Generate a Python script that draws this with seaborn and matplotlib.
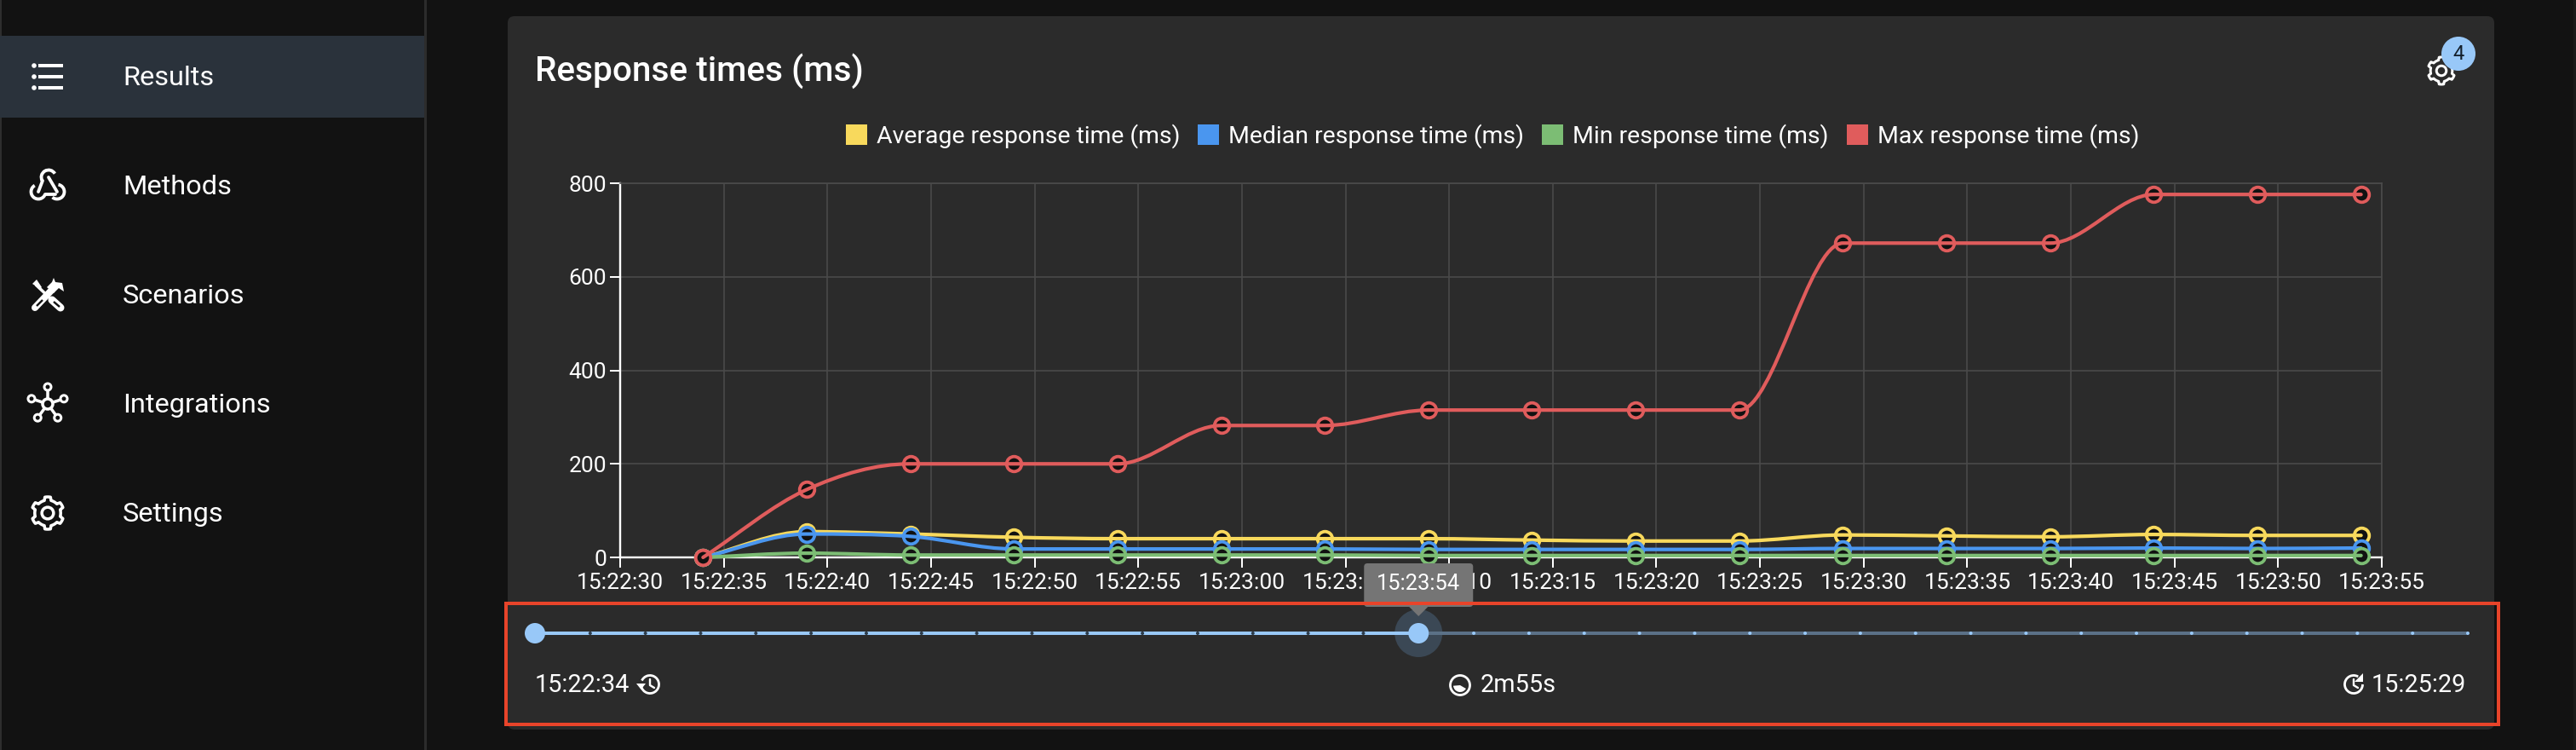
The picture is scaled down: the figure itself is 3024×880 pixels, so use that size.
"""
plot.py
-------
Dark dashboard panel with a response times chart, a time slider and a sidebar.
"""

import matplotlib.dates as mdates
import matplotlib.pyplot as plt
import numpy as np
import pandas as pd
import seaborn as sns
from matplotlib.patches import Arc, Circle, FancyBboxPatch, PathPatch, Patch, Polygon, Rectangle, Wedge
from matplotlib.path import Path

# Chart data
times = [
    "15:22:34", "15:22:39", "15:22:44", "15:22:49", "15:22:54", "15:22:59",
    "15:23:04", "15:23:09", "15:23:14", "15:23:19", "15:23:24", "15:23:29",
    "15:23:34", "15:23:39", "15:23:44", "15:23:49", "15:23:54",
]
average_ms = [0, 55, 50, 43, 40, 40, 40, 40, 37, 35, 35, 48, 46, 44, 49, 47, 47]
median_ms = [0, 50, 45, 18, 18, 18, 18, 17, 17, 17, 17, 19, 19, 19, 20, 19, 20]
min_ms = [0, 9, 5, 5, 5, 5, 5, 4, 4, 4, 4, 4, 4, 4, 4, 4, 4]
max_ms = [0, 145, 200, 200, 200, 282, 282, 315, 315, 315, 315, 672, 672, 672, 776, 776, 776]
series_names = [
    "Average response time (ms)",
    "Median response time (ms)",
    "Min response time (ms)",
    "Max response time (ms)",
]
series_colors = ["#f8d95c", "#4a96ef", "#7cbd74", "#e05c5c"]
y_ticks = [0, 200, 400, 600, 800]
x_start = "15:22:30"
x_end = "15:23:55"

# Page text
menu_items = ["Results", "Methods", "Scenarios", "Integrations", "Settings"]
chart_title = "Response times (ms)"
slider_start = "15:22:34"
slider_current = "15:23:54"
slider_end = "15:25:29"
slider_span = "2m55s"
badge_count = "4"
slider_steps = 35
slider_active_steps = 16

# Colours
PAGE = "#121212"
PANEL = "#2b2b2b"
BAND = "#2a323b"
GRID = "#4b4b4b"
ACCENT = "#98c8f8"
TRACK = "#5b7187"
WHITE = "#ffffff"
RED_BOX = "#e8442a"

W, H = 3024, 880


def px(n):
    # Pixels to points at dpi 100.
    return n * 0.72


def monotone_path(x, y):
    # Monotone cubic curve through the points, as bezier segments.
    x = np.asarray(x, dtype=float)
    y = np.asarray(y, dtype=float)
    h = np.diff(x)
    delta = np.diff(y) / h
    m = np.zeros_like(y)
    m[0], m[-1] = delta[0], delta[-1]
    for i in range(1, len(y) - 1):
        if delta[i - 1] * delta[i] > 0:
            m[i] = (delta[i - 1] + delta[i]) / 2
    for i in range(len(delta)):
        if delta[i] == 0:
            m[i] = m[i + 1] = 0
            continue
        a, b = m[i] / delta[i], m[i + 1] / delta[i]
        s = a * a + b * b
        if s > 9:
            t = 3 / np.sqrt(s)
            m[i], m[i + 1] = t * a * delta[i], t * b * delta[i]
    verts = [(x[0], y[0])]
    codes = [Path.MOVETO]
    for i in range(len(h)):
        verts.append((x[i] + h[i] / 3, y[i] + m[i] * h[i] / 3))
        verts.append((x[i + 1] - h[i] / 3, y[i + 1] - m[i + 1] * h[i] / 3))
        verts.append((x[i + 1], y[i + 1]))
        codes += [Path.CURVE4] * 3
    return Path(verts, codes)


def gear(ax, cx, cy, r, lw=3.5):
    # Outline gear with six teeth and a ring in the middle.
    angles = np.linspace(0, 2 * np.pi, 72, endpoint=False)
    radii = r * (0.8 + 0.2 * (np.cos(6 * angles) > 0.1))
    pts = np.c_[cx + radii * np.sin(angles), cy + radii * np.cos(angles)]
    ax.add_patch(Polygon(pts, closed=True, fill=False, ec=WHITE, lw=px(lw), joinstyle="round"))
    ax.add_patch(Circle((cx, cy), r * 0.36, fill=False, ec=WHITE, lw=px(lw)))


def list_icon(ax, cx, cy):
    for dy in (-13, 0, 13):
        ax.add_patch(Circle((cx - 16, cy + dy), 2.8, fc=WHITE, ec="none"))
        ax.add_patch(Rectangle((cx - 11, cy + dy - 1.7), 29, 3.4, fc=WHITE, ec="none"))


def webhook_icon(ax, cx, cy):
    # Three open lobes joined by straight strokes (theta runs clockwise, y points down).
    lw = px(3.8)
    ax.add_patch(Arc((cx + 1, cy - 10), 17, 17, theta1=150, theta2=330, ec=WHITE, lw=lw))
    ax.add_patch(Arc((cx - 11, cy + 7), 17, 17, theta1=20, theta2=240, ec=WHITE, lw=lw))
    ax.add_patch(Arc((cx + 11, cy + 7), 17, 17, theta1=280, theta2=490, ec=WHITE, lw=lw))
    ax.plot([cx - 6, cx - 11], [cy - 6, cy + 7], color=WHITE, lw=lw, solid_capstyle="round")
    ax.plot([cx + 1, cx + 11], [cy - 10, cy + 7], color=WHITE, lw=lw, solid_capstyle="round")
    ax.plot([cx - 3, cx + 9], [cy + 10, cy + 10], color=WHITE, lw=lw, solid_capstyle="round")


def tools_icon(ax, cx, cy):
    # Screwdriver from upper left, hammer from lower left.
    ax.plot([cx - 14, cx + 4], [cy - 12, cy + 5], color=WHITE, lw=px(3.5), solid_capstyle="butt")
    ax.add_patch(Polygon([(cx - 18, cy - 13), (cx - 13, cy - 18), (cx - 7, cy - 9), (cx - 9, cy - 7)],
                         closed=True, fc=WHITE, ec="none"))
    ax.plot([cx + 5, cx + 15], [cy + 6, cy + 15], color=WHITE, lw=px(9), solid_capstyle="round")
    ax.plot([cx + 7, cx + 14], [cy + 8, cy + 14], color=PAGE, lw=px(2.4), solid_capstyle="butt")
    ax.plot([cx - 15, cx + 5], [cy + 15, cy - 6], color=WHITE, lw=px(8), solid_capstyle="round")
    ax.plot([cx - 13, cx - 6], [cy + 13, cy + 6], color=PAGE, lw=px(2.4), solid_capstyle="butt")
    ax.add_patch(Polygon([(cx - 1, cy - 9), (cx + 5, cy - 15), (cx + 7, cy - 20), (cx + 9, cy - 15),
                          (cx + 17, cy - 14), (cx + 19, cy - 4), (cx + 13, cy - 8), (cx + 7, cy - 2)],
                         closed=True, fc=WHITE, ec="none"))


def hub_icon(ax, cx, cy):
    for angle in np.deg2rad([0, 72, 144, 216, 288]):
        ox, oy = 20 * np.sin(angle), -20 * np.cos(angle)
        ax.plot([cx + 0.35 * ox, cx + 0.75 * ox], [cy + 0.35 * oy, cy + 0.75 * oy], color=WHITE, lw=px(3.5))
        ax.add_patch(Circle((cx + ox, cy + oy), 4, fill=False, ec=WHITE, lw=px(3)))
    ax.add_patch(Circle((cx, cy), 6, fill=False, ec=WHITE, lw=px(3.5)))


def history_icon(ax, cx, cy):
    ax.add_patch(Arc((cx, cy), 21, 21, theta1=205, theta2=520, ec=WHITE, lw=px(2.8)))
    ax.add_patch(Polygon([(cx - 16, cy - 1), (cx - 5, cy - 1), (cx - 10.5, cy + 6)], closed=True, fc=WHITE, ec="none"))
    ax.plot([cx, cx, cx + 5], [cy - 6, cy + 1, cy + 4], color=WHITE, lw=px(2.4))


def update_icon(ax, cx, cy):
    ax.add_patch(Arc((cx, cy), 21, 21, theta1=0, theta2=300, ec=WHITE, lw=px(2.8)))
    ax.add_patch(Polygon([(cx + 11, cy - 13), (cx + 11, cy - 3), (cx + 1, cy - 3)], closed=True, fc=WHITE, ec="none"))
    ax.plot([cx, cx, cx + 5], [cy - 6, cy + 1, cy + 4], color=WHITE, lw=px(2.4))


sns.set_theme(style="dark")
plt.rcParams["font.family"] = ["Roboto", "DejaVu Sans"]

fig = plt.figure(figsize=(W / 100, H / 100), dpi=100, facecolor=PAGE)

# Page background
bg = fig.add_axes([0, 0, 1, 1], zorder=0)
bg.set_xlim(0, W)
bg.set_ylim(H, 0)
bg.axis("off")
bg.add_patch(Rectangle((0, 0), W, H, fc=PAGE, ec="none"))
bg.add_patch(Rectangle((0, 0), 2, H, fc="#2e2e2e", ec="none"))
bg.add_patch(Rectangle((3021, 0), 3, H, fc="#1a1a1a", ec="none"))
bg.add_patch(Rectangle((0, 42), 498, 96, fc=BAND, ec="none"))
bg.add_patch(Rectangle((498, 0), 3, H, fc="#2c2c2c", ec="none"))
bg.add_patch(FancyBboxPatch((604, 27), 2316, 821, boxstyle="round,pad=8,rounding_size=8", fc=PANEL, ec="none"))

# Chart
ax = fig.add_axes([728 / W, 1 - 654 / H, (2796 - 728) / W, (654 - 215) / H], zorder=1)
ax.patch.set_alpha(0)

parsed = pd.to_datetime(times, format="%H:%M:%S")
x_num = mdates.date2num(parsed)
values = [average_ms, median_ms, min_ms, max_ms]
frame = pd.DataFrame({"time": parsed})
for name, vals in zip(series_names, values):
    frame[name] = vals
long_frame = frame.melt(id_vars="time", var_name="series", value_name="ms")

for i, (name, color) in enumerate(zip(series_names, series_colors)):
    sub = long_frame[long_frame["series"] == name]
    sns.scatterplot(
        data=sub, x="time", y="ms", ax=ax, marker="o", s=160, facecolor="#111111",
        edgecolor=color, linewidth=px(3.8), clip_on=False, zorder=3 + i * 2, legend=False,
    )
    curve = monotone_path(x_num, values[i])
    ax.add_patch(PathPatch(curve, fc="none", ec=color, lw=px(4.2), transform=ax.transData,
                           clip_on=False, zorder=4 + i * 2, capstyle="round"))

ax.set_xlim(*mdates.date2num(pd.to_datetime([x_start, x_end], format="%H:%M:%S")))
ax.set_ylim(0, 800)
ax.set_yticks(y_ticks)
ax.xaxis.set_major_locator(mdates.SecondLocator(bysecond=range(0, 60, 5)))
ax.xaxis.set_major_formatter(mdates.DateFormatter("%H:%M:%S"))
ax.set_xlabel("")
ax.set_ylabel("")
ax.grid(True, color=GRID, lw=px(1.6))
ax.set_axisbelow(True)
ax.tick_params(axis="x", colors=WHITE, labelsize=19, length=px(12), width=px(2), pad=px(6), bottom=True)
ax.tick_params(axis="y", colors=WHITE, labelsize=19, length=px(12), width=px(2), pad=px(4), left=True)
for side, spine in ax.spines.items():
    spine.set_color(WHITE if side in ("left", "bottom") else GRID)
    spine.set_linewidth(px(2.4 if side in ("left", "bottom") else 1.6))

handles = [Patch(fc=c, ec="none", label=n) for n, c in zip(series_names, series_colors)]
legend_fs = 20.4
fs_px = legend_fs / 0.72
fig.legend(
    handles=handles, loc="center", bbox_to_anchor=(1752 / W, 1 - 160 / H), ncol=4, frameon=False,
    fontsize=legend_fs, labelcolor=WHITE, handlelength=25 / fs_px, handleheight=26 / fs_px,
    handletextpad=11 / fs_px, columnspacing=21 / fs_px, borderpad=0, borderaxespad=0,
)

# Everything drawn over the chart
top = fig.add_axes([0, 0, 1, 1], zorder=2)
top.set_xlim(0, W)
top.set_ylim(H, 0)
top.axis("off")
top.patch.set_alpha(0)

# Sidebar
menu_y = [91, 219, 347, 475, 603]
for label, y in zip(menu_items, menu_y):
    top.text(144, y, label, color=WHITE, fontsize=23.4, va="center", ha="left")
list_icon(top, 56, 90)
webhook_icon(top, 56, 218)
tools_icon(top, 56, 346)
hub_icon(top, 56, 474)
gear(top, 56, 602, 19)

# Panel header
top.text(628, 83, chart_title, color=WHITE, fontsize=29.2, fontweight="medium", va="center", ha="left")
gear(top, 2866, 83, 16, lw=3)
top.add_patch(Circle((2886, 63), 20, fc=ACCENT, ec="none"))
top.text(2886, 63, badge_count, color="#14202c", fontsize=17, va="center", ha="center")

# Slider
sl_left, sl_right, sl_y = 628, 2897, 743
tick_x = np.linspace(sl_left, sl_right, slider_steps + 1)
thumb_x = tick_x[slider_active_steps]
top.add_patch(Circle((thumb_x, sl_y), 28, fc="#3b4855", ec="none"))
top.add_patch(Rectangle((thumb_x, sl_y - 2), sl_right - thumb_x, 4, fc=TRACK, ec="none"))
top.add_patch(Rectangle((sl_left, sl_y - 2), thumb_x - sl_left, 4, fc=ACCENT, ec="none"))
for i, tx in enumerate(tick_x):
    color = "#2b3a48" if i <= slider_active_steps else ACCENT
    top.add_patch(Circle((tx, sl_y), 2, fc=color, ec="none"))
top.add_patch(Circle((sl_left, sl_y), 12, fc=ACCENT, ec="none"))
top.add_patch(Circle((thumb_x, sl_y), 12, fc=ACCENT, ec="none"))
top.add_patch(FancyBboxPatch((thumb_x - 60, 665), 120, 43, boxstyle="round,pad=4,rounding_size=4", fc="#757575", ec="none"))
top.add_patch(Polygon([(thumb_x - 11, 712), (thumb_x + 11, 712), (thumb_x, 723)], closed=True, fc="#757575", ec="none"))
top.text(thumb_x, 685, slider_current, color=WHITE, fontsize=18.4, va="center", ha="center")

top.text(628, 804, slider_start, color=WHITE, fontsize=20.8, va="center", ha="left")
history_icon(top, 763, 803)
top.add_patch(Circle((1714, 804), 11.5, fill=False, ec=WHITE, lw=px(2.8)))
top.add_patch(Wedge((1714, 804), 8, 30, 175, fc=WHITE, ec="none"))
top.text(1738, 804, slider_span, color=WHITE, fontsize=20.8, va="center", ha="left")
update_icon(top, 2763, 803)
top.text(2895, 804, slider_end, color=WHITE, fontsize=20.8, va="center", ha="right")

# Highlight box around the slider
top.add_patch(Rectangle((594, 708), 2339, 142, fill=False, ec=RED_BOX, lw=px(4)))

fig.savefig("out.png", dpi=100, facecolor=PAGE)
plt.close(fig)
